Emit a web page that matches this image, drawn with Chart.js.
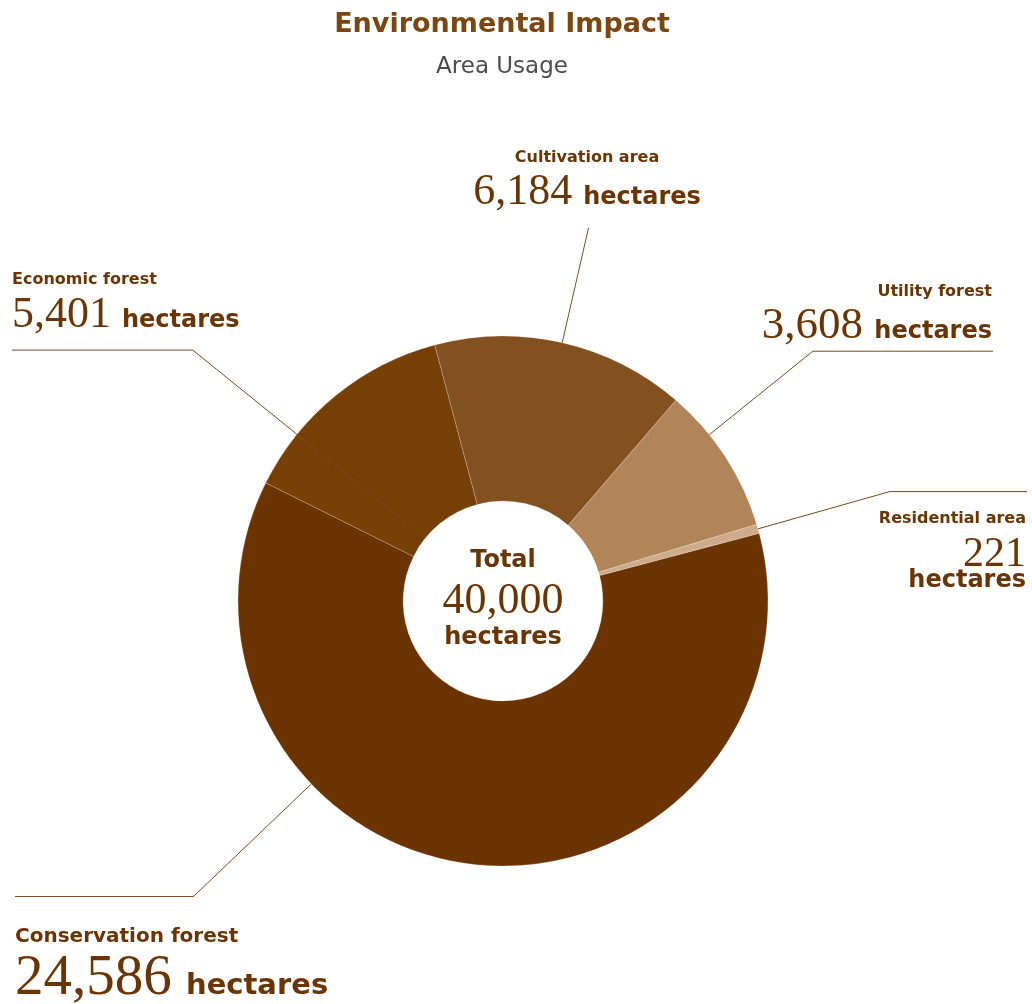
<!DOCTYPE html>
<html>
<head>
<meta charset="utf-8">
<title>Environmental Impact</title>
<script src="https://cdn.jsdelivr.net/npm/chart.js@4/dist/chart.umd.min.js"></script>
<style>
  html, body { margin: 0; padding: 0; background: #ffffff; }
  #wrap { width: 1032px; height: 1004px; position: relative; }
</style>
</head>
<body>
<div id="wrap"><canvas id="landChart"></canvas></div>
<script>
// land use, in hectares
const categories = ["Conservation forest", "Economic forest", "Cultivation area", "Utility forest", "Residential area"];
const hectares = [24586, 5401, 6184, 3608, 221];
const sliceColors = ["#6a3300", "#763f06", "#83501f", "#b18559", "#cfab8b"];

const titleText = "Environmental Impact";
const subtitleText = "Area Usage";
const unitText = "hectares";

// leader lines: where on the slice they start, how far out the bend is, where the flat part ends
const leaderFrac = [0.683, 0.257, 0.5, 0.32, 0.5];
const leaderFromInner = [false, true, false, false, false];
const leaderReach = [428, 399, 383, 398, 402];
const leaderEndX = [15, 12, null, 993, 1027];

// callout text placement
const callouts = [
  { x: 15, align: "left", nameY: 942, valueY: 994, nameSize: 20, numSize: 57, unitSize: 29 },
  { x: 12, align: "left", nameY: 284, valueY: 327, nameSize: 16, numSize: 44, unitSize: 24 },
  { x: 587, align: "center", nameY: 162, valueY: 204, nameSize: 16, numSize: 44, unitSize: 24 },
  { x: 992, align: "right", nameY: 296, valueY: 338, nameSize: 16, numSize: 45, unitSize: 24 },
  { x: 1026, align: "right", nameY: 523, valueY: 566, unitY: 587, nameSize: 16, numSize: 42, unitSize: 24, stacked: true },
];

const brown = "#6b3503";
const lineColor = "#7b4a1e";
const sansFont = '"DejaVu Sans", sans-serif';
const numFont = '"Liberation Serif", serif';

function fmt(v) {
  return v.toLocaleString("en-US");
}

// number followed by the unit on one line
function drawValueLine(ctx, num, c, y) {
  ctx.font = c.numSize + "px " + numFont;
  const numW = ctx.measureText(num).width;
  const gap = ctx.measureText(" ").width;
  ctx.font = "bold " + c.unitSize + "px " + sansFont;
  const unitW = ctx.measureText(unitText).width;
  const total = numW + gap + unitW;
  let x = c.x;
  if (c.align === "right") x = c.x - total;
  if (c.align === "center") x = c.x - total / 2;
  ctx.textAlign = "left";
  ctx.font = c.numSize + "px " + numFont;
  ctx.fillText(num, x, y);
  ctx.font = "bold " + c.unitSize + "px " + sansFont;
  ctx.fillText(unitText, x + numW + gap, y);
}

const calloutPlugin = {
  id: "callouts",
  afterDatasetsDraw(chart) {
    const ctx = chart.ctx;
    const arcs = chart.getDatasetMeta(0).data;
    ctx.save();
    ctx.strokeStyle = lineColor;
    ctx.lineWidth = 1;
    arcs.forEach((arc, i) => {
      const p = arc.getProps(["x", "y", "startAngle", "endAngle", "innerRadius", "outerRadius"], true);
      const a = p.startAngle + (p.endAngle - p.startAngle) * leaderFrac[i];
      const r0 = leaderFromInner[i] ? p.innerRadius : p.outerRadius;
      const x1 = p.x + Math.cos(a) * leaderReach[i];
      const y1 = p.y + Math.sin(a) * leaderReach[i];
      ctx.beginPath();
      ctx.moveTo(p.x + Math.cos(a) * r0, p.y + Math.sin(a) * r0);
      ctx.lineTo(x1, y1);
      if (leaderEndX[i] !== null) ctx.lineTo(leaderEndX[i], y1);
      ctx.stroke();
    });
    ctx.restore();
  },
  afterDraw(chart) {
    const ctx = chart.ctx;
    const arcs = chart.getDatasetMeta(0).data;
    ctx.save();
    ctx.textBaseline = "alphabetic";

    // title block
    ctx.textAlign = "center";
    ctx.fillStyle = "#7a4710";
    ctx.font = "bold 27px " + sansFont;
    ctx.fillText(titleText, 502, 32);
    ctx.fillStyle = "#4d4d4d";
    ctx.font = "23px " + sansFont;
    ctx.fillText(subtitleText, 502, 73);

    // slice callouts
    ctx.fillStyle = brown;
    callouts.forEach((c, i) => {
      ctx.textAlign = c.align;
      ctx.font = "bold " + c.nameSize + "px " + sansFont;
      ctx.fillText(categories[i], c.x, c.nameY);
      const num = fmt(hectares[i]);
      if (c.stacked) {
        ctx.font = c.numSize + "px " + numFont;
        ctx.fillText(num, c.x, c.valueY);
        ctx.font = "bold " + c.unitSize + "px " + sansFont;
        ctx.fillText(unitText, c.x, c.unitY);
      } else {
        drawValueLine(ctx, num, c, c.valueY);
      }
    });

    // total in the hole
    const cx = arcs[0].x;
    const total = hectares.reduce((s, v) => s + v, 0);
    ctx.textAlign = "center";
    ctx.font = "bold 24px " + sansFont;
    ctx.fillText("Total", cx, 567);
    ctx.font = "44px " + numFont;
    ctx.fillText(fmt(total), cx, 613);
    ctx.font = "bold 24px " + sansFont;
    ctx.fillText(unitText, cx, 644);
    ctx.restore();
  },
};

const landChart = new Chart(document.getElementById("landChart"), {
  type: "doughnut",
  plugins: [calloutPlugin],
  data: {
    labels: categories,
    datasets: [
      {
        data: hectares,
        backgroundColor: sliceColors,
        borderColor: "rgba(255,255,255,0.35)",
        borderWidth: 0.6,
        hoverOffset: 0,
      },
    ],
  },
  options: {
    responsive: true,
    maintainAspectRatio: false,
    animation: false,
    rotation: 75.2,
    radius: 265,
    cutout: "37.7%",
    layout: { padding: { top: 198, right: 26, left: 0, bottom: 0 } },
    plugins: {
      legend: { display: false },
      tooltip: { enabled: false },
    },
  },
});
</script>
</body>
</html>
